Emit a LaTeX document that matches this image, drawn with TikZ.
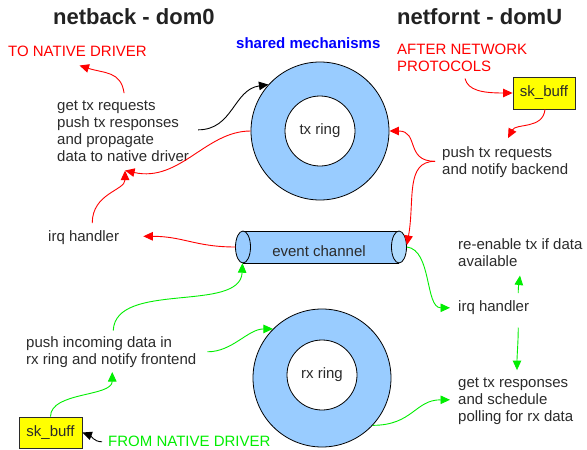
\documentclass[tikz,border=0pt]{standalone}
\usepackage{fontspec}
\setmainfont{Liberation Sans}
\usetikzlibrary{arrows.meta}
\definecolor{ringblue}{HTML}{99CCFF}
\definecolor{endblue}{HTML}{B0DCFF}
\definecolor{ink}{HTML}{2B2B2B}
\definecolor{titleink}{HTML}{222222}
\definecolor{flowred}{HTML}{FF0000}
\definecolor{flowgreen}{HTML}{00EE00}
\definecolor{bufyellow}{HTML}{FFFF00}
\begin{document}
\begin{tikzpicture}[x=1pt,y=-1pt,
  lbl/.style={font=\fontsize{15}{17}\selectfont, text=ink, align=left,
              inner sep=0pt, anchor=north west},
  heading/.style={font=\fontsize{22}{26}\selectfont\bfseries, text=titleink,
              inner sep=0pt, anchor=north west},
  ring/.style={circle, draw=black, line width=0.8pt, fill=ringblue,
              minimum size=138pt, inner sep=0pt},
  hole/.style={circle, draw=black, line width=0.8pt, fill=white,
              minimum size=70pt, inner sep=0pt,
              font=\fontsize{15}{17}\selectfont, text=ink},
  buffer/.style={draw=ink, line width=0.8pt, fill=bufyellow, inner sep=0pt,
              font=\fontsize{15}{17}\selectfont, text=ink},
  conn/.style={line width=0.9pt, -{Triangle[length=9.5pt,width=8.5pt]}}]

\useasboundingbox[fill=white] (0,0) rectangle (587,450);

% column headings
\node[heading] (titleL) at (53,6.3) {\strut netback - dom0};
\node[heading] (titleR) at (397,6.3) {\strut netfornt - domU};
\node[lbl, font=\fontsize{15}{17}\selectfont\bfseries, text=blue] (shared) at (236,36.4) {\strut shared mechanisms};

% backend side
\node[lbl, text=flowred] (toNative) at (8,44.1) {\strut TO NATIVE DRIVER};
\node[lbl] (txproc) at (57,98.1) {\strut get tx requests\\push tx responses\\and propagate\\data to native driver};
\node[lbl] (irqL) at (48,229.1) {\strut irq handler};
\node[lbl] (pushIn) at (26,335.6) {\strut push incoming data in\\rx ring and notify frontend};
\node[buffer, minimum width=63pt, minimum height=31pt] (skL) at (50.5,432.5) {sk\_buff};
\node[lbl, text=flowgreen] (fromNative) at (108,434.6) {\strut FROM NATIVE DRIVER};

% frontend side
\node[lbl, text=flowred] (after) at (397,42.1) {\strut AFTER NETWORK\\PROTOCOLS};
\node[buffer, minimum width=62pt, minimum height=32pt] (skR) at (544,93) {sk\_buff};
\node[lbl] (pushTx) at (442,145.1) {\strut push tx requests\\and notify backend};
\node[lbl] (reenable) at (458,237.1) {\strut re-enable tx if data\\available};
\node[lbl] (irqR) at (458,299.1) {\strut irq handler};
\node[lbl] (getResp) at (458,375.1) {\strut get tx responses\\and schedule\\polling for rx data};

% shared rings
\node[ring] (txring) at (320,131) {};
\node[hole] (txinner) at (320,131) {tx ring};
\node[ring] (rxring) at (322,378) {};
\node[hole] (rxinner) at (322,375) {rx ring};

% event channel cylinder
\fill[ringblue] (243,231) rectangle (399,263);
\draw[line width=0.8pt] (243,231) -- (399,231) (243,263) -- (399,263);
\filldraw[fill=ringblue, line width=0.8pt] (243,247) ellipse [x radius=7.5, y radius=16];
\filldraw[fill=endblue, line width=0.8pt] (399,247) ellipse [x radius=7.5, y radius=16];
\node[minimum width=171pt, minimum height=32pt, inner sep=0pt] (evch) at (321.2,247) {};
\node[font=\fontsize{15}{17}\selectfont, text=ink, inner sep=0pt] (evtxt) at (319,251.5) {event channel};

% transmit path (red)
\draw[conn, black] ([xshift=9pt]txproc.east) .. controls +(35,0) and +(-35,5) .. (txring.138);
\draw[conn, flowred] (txring.west) .. controls +(-45,0) and +(55,12) .. ([xshift=2pt,yshift=-9pt]txproc.south);
\draw[conn, flowred] ([xshift=8.6pt,yshift=6pt]irqL.north) .. controls +(0,-30) and +(0,20) .. ([xshift=2pt,yshift=-9pt]txproc.south);
\draw[conn, flowred] ([xshift=1pt,yshift=5pt]txproc.north) .. controls +(-3,-22) and +(25,8) .. ([xshift=2pt,yshift=-4pt]toNative.south);
\draw[conn, flowred] ([xshift=68pt,yshift=-7pt]after.south west) .. controls +(3,12) and +(-30,0) .. (skR.west);
\draw[conn, flowred] ([xshift=1pt]skR.south) .. controls +(-2,20) and +(8,-15) .. ([xshift=66pt,yshift=7pt]pushTx.north west);
\draw[conn, flowred] ([xshift=-7pt]pushTx.west) .. controls +(-30,0) and +(30,0) .. (txring.east);
\draw[conn, flowred] ([xshift=-7pt]pushTx.west) .. controls +(-30,0) and +(8,-45) .. ([yshift=2pt]evch.east);
\draw[conn, flowred] (evch.west) .. controls +(-40,0) and +(40,0) .. ([xshift=24pt,yshift=1.5pt]irqL.east);

% receive path (green)
\draw[conn, flowgreen] (evch.east) .. controls +(25,3) and +(-25,0) .. ([xshift=-8pt]irqR.west);
\draw[conn, flowgreen] ([xshift=24.6pt,yshift=6pt]irqR.north) .. controls +(0,-8) and +(-1,8) .. ([xshift=62pt,yshift=-9pt]reenable.south west);
\draw[conn, flowgreen] ([xshift=24.6pt,yshift=-11pt]irqR.south) .. controls +(0,15) and +(0,-15) .. ([xshift=59pt,yshift=5pt]getResp.north west);
\draw[conn, flowgreen] (rxring.-43) .. controls +(40,0) and +(-35,0) .. ([xshift=-8pt]getResp.west);
\draw[conn, flowgreen] ([xshift=2pt,yshift=5pt]pushIn.north) .. controls +(2,-50) and +(-2,50) .. ([xshift=7pt]evch.south west);
\draw[conn, flowgreen] ([xshift=11pt]pushIn.east) .. controls +(25,0) and +(-25,0) .. (rxring.135);
\draw[conn, flowgreen] (skL.north) .. controls +(0,-25) and +(0,25) .. ([xshift=1pt,yshift=-4pt]pushIn.south);
\draw[conn, black] ([xshift=-6pt,yshift=1.5pt]fromNative.west) .. controls +(-8,0) and +(8,3) .. (skL.east);
\end{tikzpicture}
\end{document}
